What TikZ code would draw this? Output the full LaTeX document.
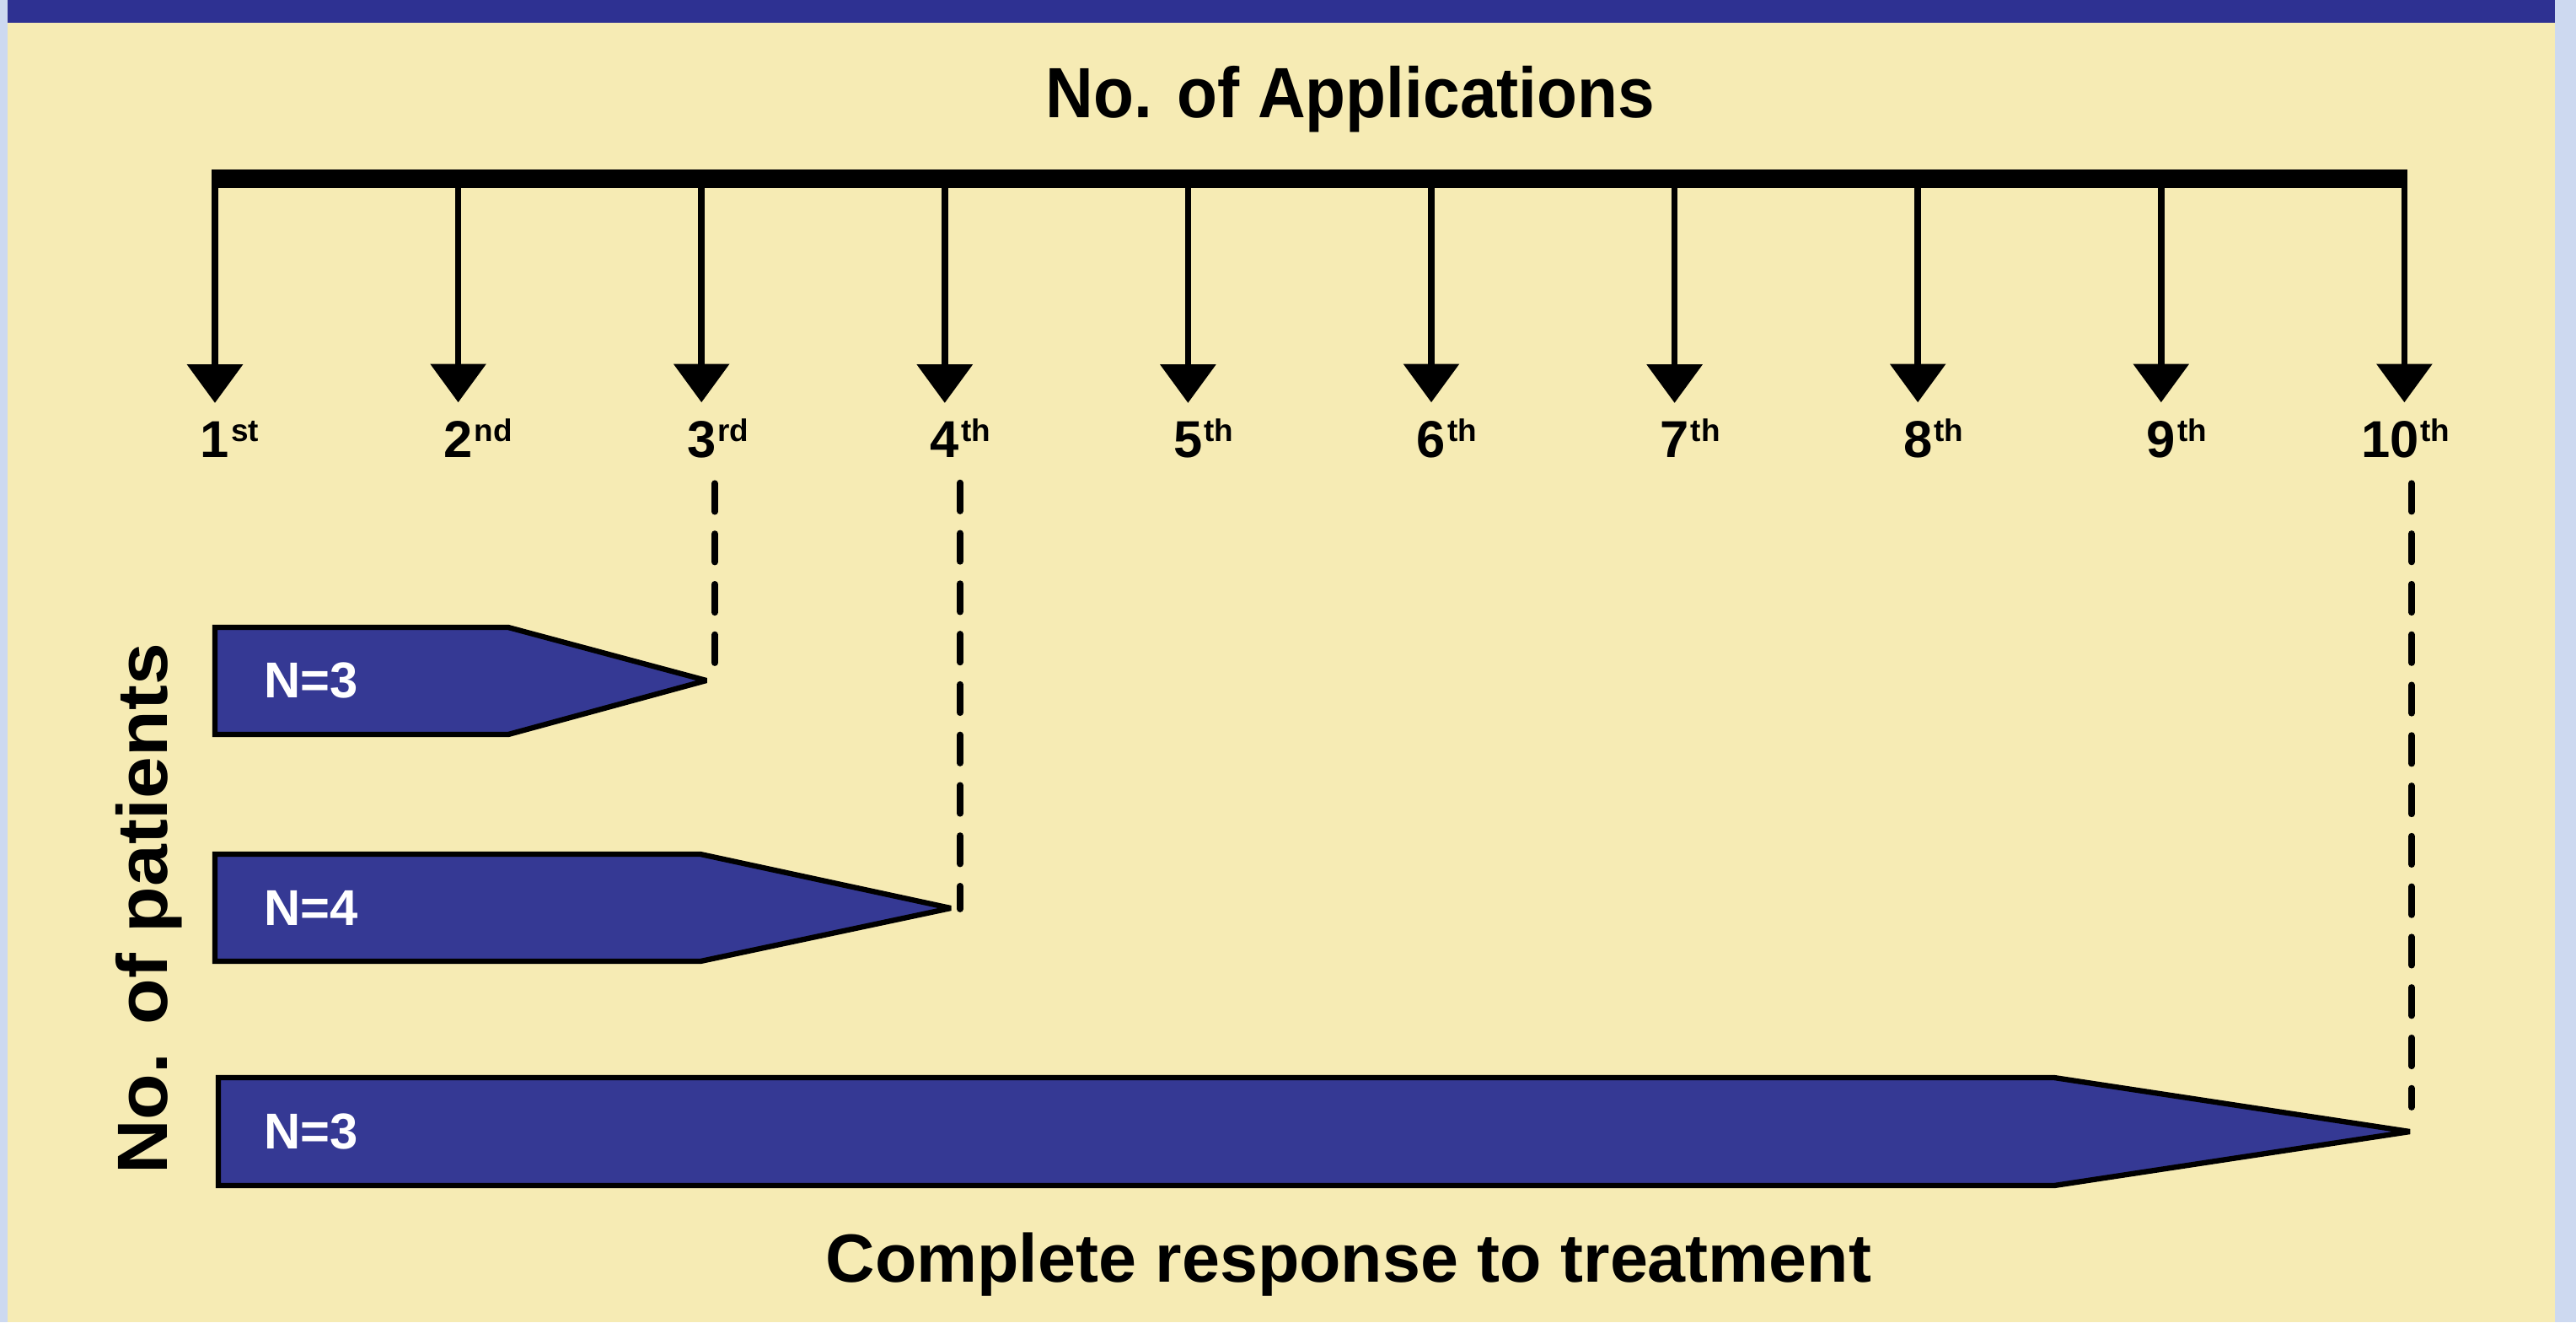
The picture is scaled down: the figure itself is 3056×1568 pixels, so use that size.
\documentclass[tikz,border=0pt]{standalone}
\usepackage{fontspec}
\setmainfont{Liberation Sans}
\usepackage{tikz}
\usetikzlibrary{positioning, calc, arrows.meta}
\usepackage{xcolor}

\definecolor{sideblue}{HTML}{CDD9F0}
\definecolor{bandblue}{HTML}{2E3192}
\definecolor{cream}{HTML}{F6EBB4}
\definecolor{barblue}{HTML}{353994}

\newcommand{\ordsuffix}[1]{\rlap{\kern0.6pt\smash{\raisebox{0.3em}{\fontsize{10.5}{11}\selectfont #1}}}}

\begin{document}
\begin{tikzpicture}[x=0.01cm, y=-0.01cm,
            heading/.style={font=\bfseries\fontsize{24}{28}\selectfont\addfontfeature{FakeStretch=0.93}, inner sep=0pt, anchor=base},
            ordinal/.style={font=\bfseries\fontsize{17.5}{20}\selectfont, inner sep=0pt, anchor=base},
            tickarrow/.style={line width=2.2pt, -{Triangle[width=18.4pt, length=13pt]}, shorten >=6pt},
            patbar/.style={fill=barblue, draw=black, line width=1.8pt, miter limit=2},
            count/.style={font=\bfseries\fontsize{17}{20}\selectfont, text=white, inner sep=0pt, anchor=west},
            guide/.style={line width=2.2pt, line cap=round, dash pattern=on 9.5pt off 7.5pt, shorten <=8.5pt}]
            \useasboundingbox (0,0) rectangle (3056,1568);
            \fill[sideblue] (0,0) rectangle (3056,1568);
            \fill[cream] (9,27) rectangle (3031,1568);
            \fill[bandblue] (9,0) rectangle (3031,27);

            \node[heading] (apps) at (1602,139) {No. of Applications};

            \coordinate (axisL) at (251,212);
            \coordinate (axisR) at (2856,212);
            \draw[line width=6.5pt] (axisL) -- (axisR);

            \foreach \i/\num/\suf in {1/1/st, 2/2/nd, 3/3/rd, 4/4/th, 5/5/th, 6/6/th, 7/7/th, 8/8/th, 9/9/th, 10/\llap{1}0/th} {
                \coordinate (t\i) at ({255+(\i-1)*288.6},212);
                \node[ordinal] (o\i) at ({255+(\i-1)*288.6},542) {\num\ordsuffix{\suf}};
                \draw[tickarrow] (t\i) -- (o\i.north);
            }

            \coordinate (tipA) at (838,807);
            \draw[patbar] (255,744) -- (603,744) -- (tipA) -- (603,871) -- (255,871) -- cycle;
            \node[count] (nA) at (313,807) {N=3};
            \coordinate (endA) at (848,792);
            \draw[guide] (o3.south -| endA) -- (endA);

            \coordinate (tipB) at (1128,1077);
            \draw[patbar] (255,1013) -- (831,1013) -- (tipB) -- (831,1140) -- (255,1140) -- cycle;
            \node[count] (nB) at (313,1077) {N=4};
            \coordinate (endB) at (1139,1078);
            \draw[guide] (o4.south -| endB) -- (endB);

            \coordinate (tipC) at (2859,1342);
            \draw[patbar] (259,1278) -- (2437,1278) -- (tipC) -- (2437,1406) -- (259,1406) -- cycle;
            \node[count] (nC) at (313,1342) {N=3};
            \coordinate (endC) at (2861,1313);
            \draw[guide] (o10.south -| endC) -- (endC);

            \node[heading, font=\bfseries\fontsize{24}{28}\selectfont\addfontfeature{FakeStretch=1.06}, rotate=90] (pat) at (199,1078) {No. of patients};
            \node[heading, font=\bfseries\fontsize{23}{28}\selectfont] (resp) at (1600,1520) {Complete response to treatment};
        \end{tikzpicture}
\end{document}
